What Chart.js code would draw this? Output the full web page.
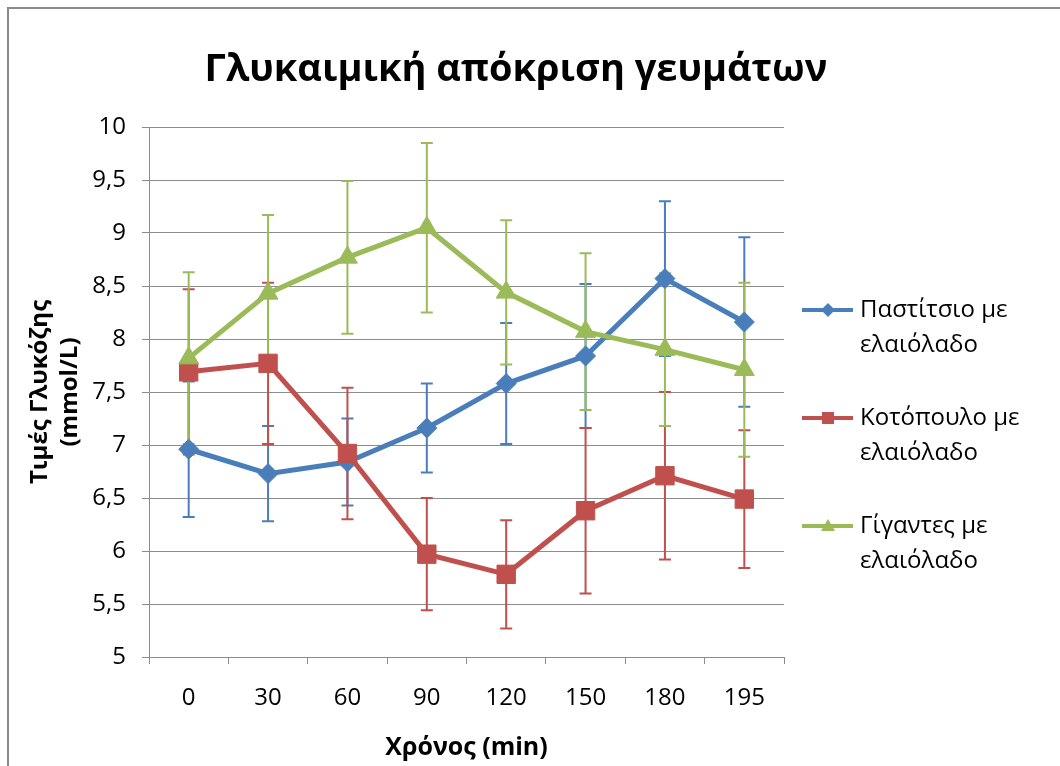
<!DOCTYPE html>
<html>
<head>
<meta charset="utf-8">
<title>Γλυκαιμική απόκριση γευμάτων</title>
<script src="https://cdn.jsdelivr.net/npm/chart.js@4.4.0/dist/chart.umd.min.js"></script>
<style>
  html, body { margin: 0; padding: 0; background: #fff; overflow: hidden; }
  #wrap { position: relative; width: 1060px; height: 766px; }
  #frame { position: absolute; left: 7px; top: 7px; width: 1100px; height: 800px;
           border: 2px solid #8a8a8a; box-sizing: border-box; pointer-events: none; }
</style>
</head>
<body>
<div id="wrap">
  <canvas id="chart" width="1060" height="766"></canvas>
  <div id="frame"></div>
</div>
<script>
// time points (min)
const times = ['0', '30', '60', '90', '120', '150', '180', '195'];

// mean glucose (mmol/L) and error bar half-lengths
const pastitsio    = [6.96, 6.73, 6.84, 7.16, 7.58, 7.84, 8.57, 8.16];
const pastitsioErr = [0.64, 0.45, 0.41, 0.42, 0.57, 0.68, 0.73, 0.80];
const kotopoulo    = [7.69, 7.77, 6.92, 5.97, 5.78, 6.38, 6.71, 6.49];
const kotopouloErr = [0.78, 0.76, 0.62, 0.53, 0.51, 0.78, 0.79, 0.65];
const gigantes     = [7.82, 8.43, 8.77, 9.05, 8.44, 8.07, 7.90, 7.71];
const gigantesErr  = [0.81, 0.74, 0.72, 0.80, 0.68, 0.74, 0.72, 0.82];

const seriesNames = [
    ['Παστίτσιο με', 'ελαιόλαδο'],
    ['Κοτόπουλο με', 'ελαιόλαδο'],
    ['Γίγαντες με', 'ελαιόλαδο']
];

const chartTitle = 'Γλυκαιμική απόκριση γευμάτων';
const yTitle = ['Τιμές Γλυκόζης', '(mmol/L)'];
const xTitle = 'Χρόνος (min)';

const BLUE = '#4a7ebb';
const RED = '#c0504d';
const GREEN = '#9bbb59';
const GRID = '#8c8c8c';
const FONT = '"Open Sans", "Noto Sans", sans-serif';

// vertical error bars, drawn under the lines
const errorBars = {
    id: 'errorBars',
    beforeDatasetsDraw(chart) {
        const ctx = chart.ctx;
        const y = chart.scales.y;
        chart.data.datasets.forEach((ds, i) => {
            const meta = chart.getDatasetMeta(i);
            ctx.save();
            ctx.strokeStyle = ds.borderColor;
            ctx.lineWidth = 2;
            meta.data.forEach((pt, j) => {
                const top = y.getPixelForValue(ds.data[j] + ds.errors[j]);
                const bot = y.getPixelForValue(ds.data[j] - ds.errors[j]);
                ctx.beginPath();
                ctx.moveTo(pt.x, top); ctx.lineTo(pt.x, bot);
                ctx.moveTo(pt.x - 6, top); ctx.lineTo(pt.x + 6, top);
                ctx.moveTo(pt.x - 6, bot); ctx.lineTo(pt.x + 6, bot);
                ctx.stroke();
            });
            ctx.restore();
        });
    }
};

// title and legend placed like the spreadsheet chart
const sideText = {
    id: 'sideText',
    afterDraw(chart) {
        const ctx = chart.ctx;
        ctx.save();
        ctx.fillStyle = '#000';
        ctx.font = 'bold 38px ' + FONT;
        ctx.textAlign = 'center';
        ctx.textBaseline = 'middle';
        ctx.fillText(chartTitle, 516, 70);

        ctx.textAlign = 'left';
        ctx.font = '24px ' + FONT;
        chart.data.datasets.forEach((ds, i) => {
            const y0 = 310 + i * 108;
            ctx.strokeStyle = ds.borderColor;
            ctx.fillStyle = ds.borderColor;
            ctx.lineWidth = 4;
            ctx.beginPath();
            ctx.moveTo(802, y0); ctx.lineTo(853, y0);
            ctx.stroke();
            ctx.beginPath();
            const cx = 828;
            if (ds.pointStyle === 'rectRot') {
                ctx.moveTo(cx, y0 - 7); ctx.lineTo(cx + 7, y0);
                ctx.lineTo(cx, y0 + 7); ctx.lineTo(cx - 7, y0);
            } else if (ds.pointStyle === 'rect') {
                ctx.rect(cx - 6, y0 - 6, 12, 12);
            } else {
                ctx.moveTo(cx, y0 - 7); ctx.lineTo(cx + 7, y0 + 5);
                ctx.lineTo(cx - 7, y0 + 5);
            }
            ctx.closePath();
            ctx.fill();
            ctx.fillStyle = '#000';
            ds.label.forEach((line, k) => ctx.fillText(line, 860, y0 + k * 35));
        });
        ctx.restore();
    }
};

const chart = new Chart('chart', {
    type: 'line',
    data: {
        labels: times,
        datasets: [{
            label: seriesNames[0],
            data: pastitsio,
            errors: pastitsioErr,
            borderColor: BLUE,
            backgroundColor: BLUE,
            borderWidth: 5,
            pointStyle: 'rectRot',
            pointRadius: 10,
            pointBorderWidth: 1,
            order: 3
        }, {
            label: seriesNames[1],
            data: kotopoulo,
            errors: kotopouloErr,
            borderColor: RED,
            backgroundColor: RED,
            borderWidth: 5,
            pointStyle: 'rect',
            pointRadius: 13,
            pointBorderWidth: 1,
            order: 2
        }, {
            label: seriesNames[2],
            data: gigantes,
            errors: gigantesErr,
            borderColor: GREEN,
            backgroundColor: GREEN,
            borderWidth: 5,
            pointStyle: 'triangle',
            pointRadius: 11.5,
            pointBorderWidth: 1,
            order: 1
        }]
    },
    options: {
        responsive: false,
        animation: false,
        layout: {padding: {left: 0, top: 127, right: 276, bottom: 0}},
        plugins: {
            legend: {display: false},
            title: {display: false},
            tooltip: {enabled: false}
        },
        scales: {
            x: {
                offset: true,
                afterFit: s => { s.height = 109; },
                grid: {offset: true, drawOnChartArea: false, drawTicks: true, tickLength: 7, color: GRID},
                border: {color: GRID},
                ticks: {color: '#000', padding: 20, font: {family: FONT, size: 24}},
                title: {display: true, text: xTitle, color: '#000',
                        padding: {top: 0, bottom: 3}, font: {family: FONT, size: 25, weight: 'bold'}}
            },
            y: {
                min: 5,
                max: 10,
                afterFit: s => { s.width = 149; },
                grid: {color: GRID, tickLength: 7},
                border: {color: GRID},
                ticks: {
                    stepSize: 0.5,
                    color: '#000',
                    padding: 16,
                    font: {family: FONT, size: 24},
                    callback: v => String(v).replace('.', ',')
                },
                title: {display: true, text: yTitle, color: '#000',
                        padding: {top: 25, bottom: 0},
                        font: {family: FONT, size: 24, weight: 'bold', lineHeight: 1.25}}
            }
        }
    },
    plugins: [errorBars, sideText]
});
</script>
</body>
</html>
